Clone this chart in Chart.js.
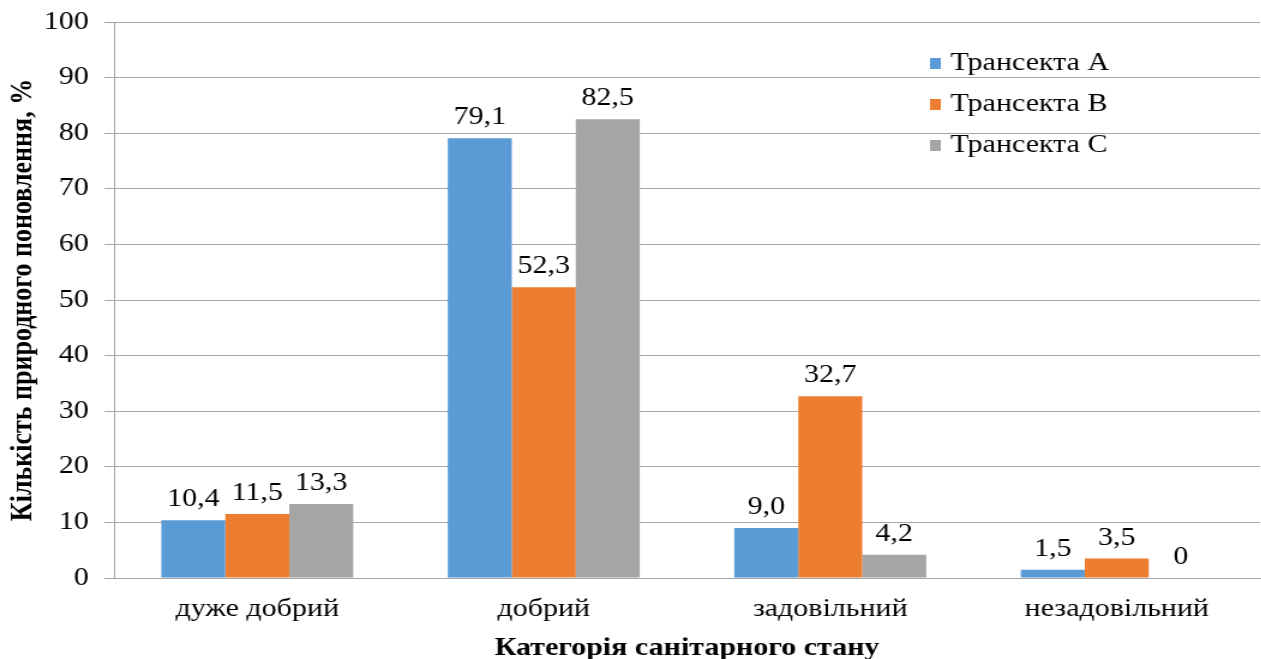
<!DOCTYPE html>
<html>
<head>
<meta charset="utf-8">
<script src="https://cdn.jsdelivr.net/npm/chart.js@4.4.1/dist/chart.umd.min.js"></script>
<style>
  html, body { margin: 0; padding: 0; background: #fff; overflow: hidden; }
  /* the drawing is laid out narrow and widened, giving the wide serif lettering */
  #chart { display: block; transform: scaleX(1.2); transform-origin: 0 0; }
</style>
</head>
<body>
<canvas id="chart" width="1051" height="659"></canvas>
<script>
const categories = ['дуже добрий', 'добрий', 'задовільний', 'незадовільний'];
const seriesNames = ['Трансекта A', 'Трансекта B', 'Трансекта C'];
const transectA = [10.4, 79.1, 9.0, 1.5];
const transectB = [11.5, 52.3, 32.7, 3.5];
const transectC = [13.3, 82.5, 4.2, 0];
const colors = ['#5B9BD5', '#ED7D31', '#A5A5A5'];

const FONT = '"Liberation Serif", "Times New Roman", serif';
const SIZE = 25;

function fmt(v) {
    return v === 0 ? '0' : v.toFixed(1).replace('.', ',');
}

// value labels above each bar
const valueLabels = {
    id: 'valueLabels',
    afterDatasetsDraw(chart) {
        const ctx = chart.ctx;
        ctx.save();
        ctx.font = SIZE + 'px ' + FONT;
        ctx.fillStyle = '#000';
        ctx.textAlign = 'center';
        ctx.textBaseline = 'bottom';
        chart.data.datasets.forEach((ds, i) => {
            chart.getDatasetMeta(i).data.forEach((bar, j) => {
                ctx.fillText(fmt(ds.data[j]), bar.x, bar.y - 8);
            });
        });
        ctx.restore();
    }
};

// legend box in the upper right of the plot
const insideLegend = {
    id: 'insideLegend',
    afterDraw(chart) {
        const ctx = chart.ctx;
        const area = chart.chartArea;
        const x = area.left + 680;
        let y = area.top + 41;
        ctx.save();
        ctx.font = SIZE + 'px ' + FONT;
        ctx.textBaseline = 'middle';
        ctx.textAlign = 'left';
        chart.data.datasets.forEach(ds => {
            ctx.fillStyle = ds.backgroundColor;
            ctx.fillRect(x, y - 5, 9, 11);
            ctx.fillStyle = '#000';
            ctx.fillText(ds.label, x + 17, y);
            y += 41;
        });
        ctx.restore();
    }
};

new Chart(document.getElementById('chart'), {
    type: 'bar',
    data: {
        labels: categories,
        datasets: [transectA, transectB, transectC].map((d, i) => ({
            label: seriesNames[i],
            data: d,
            backgroundColor: colors[i],
            barPercentage: 1,
            categoryPercentage: 0.67
        }))
    },
    options: {
        responsive: false,
        animation: false,
        layout: { padding: { top: 22, right: 1, left: 0, bottom: 0 } },
        plugins: {
            legend: { display: false },
            tooltip: { enabled: false }
        },
        scales: {
            x: {
                grid: { display: false, drawTicks: false },
                border: { display: true, color: '#a6a6a6', width: 1 },
                ticks: { color: '#000', font: { family: FONT, size: SIZE }, padding: 16 },
                title: {
                    display: true,
                    text: 'Категорія санітарного стану',
                    color: '#000',
                    font: { family: FONT, size: SIZE, weight: 'bold', lineHeight: 0.8 },
                    padding: { top: 0, bottom: 0 }
                },
                afterFit(scale) { scale.height = 81; }
            },
            y: {
                min: 0,
                max: 100,
                ticks: { stepSize: 10, color: '#000', font: { family: FONT, size: SIZE }, padding: 13 },
                grid: { color: '#a6a6a6', lineWidth: 1, tickLength: 8 },
                border: { display: true, color: '#a6a6a6', width: 1 },
                title: {
                    display: true,
                    text: 'Кількість природного поновлення, %',
                    color: '#000',
                    font: { family: FONT, size: 26, weight: 'bold' },
                    padding: { top: 4, bottom: 0 }
                },
                afterFit(scale) {
                    scale.width = 95;
                    scale.paddingTop = 0;
                    scale.paddingBottom = 0;
                }
            }
        }
    },
    plugins: [valueLabels, insideLegend]
});
</script>
</body>
</html>
